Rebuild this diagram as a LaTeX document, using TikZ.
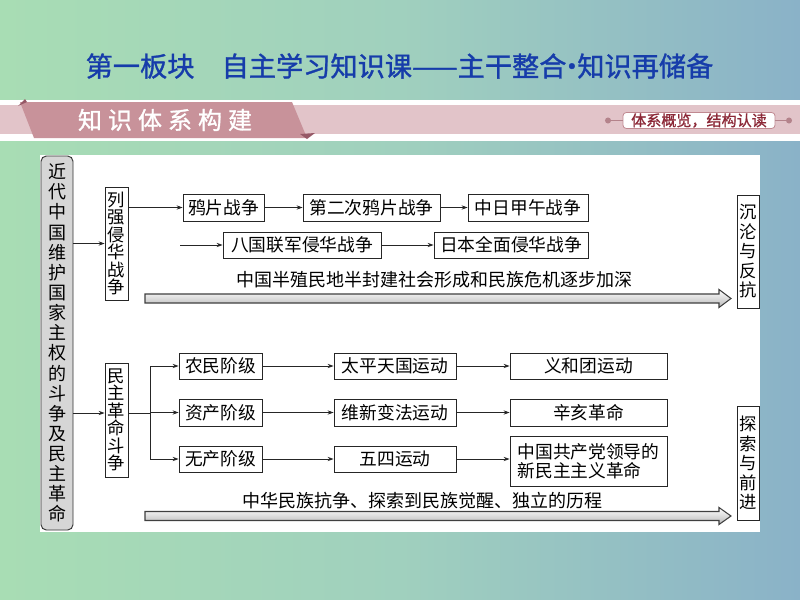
\documentclass[tikz,border=0pt]{standalone}
\usepackage{fontspec}
\newfontfamily\cjk{Noto Sans CJK SC}
\newfontfamily\cjkb[FakeBold=1.2]{Noto Sans CJK SC}
\usetikzlibrary{arrows.meta}
\definecolor{bgL}{RGB}{168,221,180}
\definecolor{bgM}{RGB}{160,208,190}
\definecolor{bgR}{RGB}{138,178,200}
\definecolor{titleblue}{RGB}{22,60,170}
\definecolor{pinkband}{RGB}{226,196,201}
\definecolor{tabpink}{RGB}{200,146,154}
\definecolor{tabdark}{RGB}{150,88,102}
\definecolor{tagred}{RGB}{140,40,55}
\definecolor{graybox}{RGB}{214,214,214}
\begin{document}
\begin{tikzpicture}[x=0.75pt,y=-0.75pt,
  bx/.style 2 args={draw=black!85, line width=0.6pt, fill=white, inner sep=0pt,
     minimum width=#1*0.75pt, minimum height=#2*0.75pt,
     font=\cjk\fontsize{13.3}{14.3}\selectfont},
  vbx/.style 2 args={draw=black!85, line width=0.6pt, fill=white, inner sep=0pt,
     minimum width=#1*0.75pt, minimum height=#2*0.75pt, align=center},
  conn/.style={-{Stealth[length=4.5pt,width=3.2pt]}, line width=0.6pt, draw=black!85},
  plain/.style={line width=0.6pt, draw=black!85},
  bigarrow/.style={draw=black!75, line width=0.8pt, top color=white, bottom color=black!28},
  longtxt/.style={font=\cjk\fontsize{13.5}{15}\selectfont, inner sep=0pt},
]
\useasboundingbox (0,0) rectangle (800,600);
% background
\shade[left color=bgL, right color=bgR, middle color=bgM] (0,0) rectangle (800,600);
% title
\node[font=\cjkb\fontsize{20.4}{24}\selectfont, text=titleblue] (title) at (399.5,66)
  {第一板块　自主学习知识课——主干整合\hspace{-0.3em}·\hspace{-0.3em}知识再储备};
% banner
\fill[white] (0,100) rectangle (800,141);
\fill[pinkband] (0,105) rectangle (800,134);
\fill[tabpink] (20,102) -- (292,102) -- (307,138) -- (34,138) -- cycle;
\fill[tabdark] (18,106) -- (25,99) -- (27,102) -- cycle;
\fill[tabdark] (300,134) -- (315,133) -- (307,139) -- cycle;
\node[font=\cjkb\fontsize{18}{20}\selectfont, text=white] (ktitle) at (165,120)
  {知\hspace{4.5pt}识\hspace{4.5pt}体\hspace{4.5pt}系\hspace{4.5pt}构\hspace{4.5pt}建};
\node[draw=tagred!55, line width=0.6pt, fill=white, rounded corners=2.5pt, text=tagred,
  inner sep=0pt, minimum width=152*0.75pt, minimum height=16*0.75pt,
  font=\cjkb\fontsize{11.3}{12}\selectfont] (tag) at (699,120.5) {体系概览，结构认读};
\node[circle, fill=tabpink!90!black, inner sep=1.6pt] (d1) at (608,120.5) {};
\node[circle, fill=tabpink!90!black, inner sep=1.6pt] (d2) at (789,120.5) {};
\draw[tabpink!90!black, line width=0.8pt] (d1) -- (tag.west);
\draw[tabpink!90!black, line width=0.8pt] (tag.east) -- (d2);
% panel
\fill[white] (40,155) rectangle (760,532);
% root
\node[draw=black!80, line width=0.7pt, fill=graybox, rounded corners=4pt, inner sep=0pt,
  minimum width=32*0.75pt, minimum height=374*0.75pt, align=center,
  font=\cjk\fontsize{13.5}{15.1}\selectfont] (root) at (57,343)
  {近\\代\\中\\国\\维\\护\\国\\家\\主\\权\\的\\斗\\争\\及\\民\\主\\革\\命};
% level-1 vertical boxes
\node[vbx={23}{113}, font=\cjk\fontsize{13}{13.1}\selectfont] (lq) at (116.5,243.5)
  {列\\强\\侵\\华\\战\\争};
\node[vbx={23}{114}, font=\cjk\fontsize{13}{13.1}\selectfont] (mz) at (116.5,420)
  {民\\主\\革\\命\\斗\\争};
\node[vbx={22}{113}, font=\cjk\fontsize{13}{14.6}\selectfont] (cl) at (748,251.5)
  {沉\\沦\\与\\反\\抗};
\node[vbx={22}{114}, font=\cjk\fontsize{13}{14.6}\selectfont] (ts) at (748,463)
  {探\\索\\与\\前\\进};
% top rows
\node[bx={81}{27}] (yp) at (223.5,207.5) {鸦片战争};
\node[bx={137}{27}] (de) at (371.5,207.5) {第二次鸦片战争};
\node[bx={120}{27}] (zr) at (528,207.5) {中日甲午战争};
\node[bx={158}{26}] (bg) at (302,245) {八国联军侵华战争};
\node[bx={154}{26}] (rb) at (511,245) {日本全面侵华战争};
\node[longtxt] (t1) at (434,280) {中国半殖民地半封建社会形成和民族危机逐步加深};
% bottom rows
\node[bx={83}{26}] (nm) at (220.5,366) {农民阶级};
\node[bx={83}{27}] (zc) at (220.5,412.5) {资产阶级};
\node[bx={83}{26}] (wc) at (220.5,459) {无产阶级};
\node[bx={122}{26}] (tp) at (395,366) {太平天国运动};
\node[bx={122}{27}] (wx) at (395,412.5) {维新变法运动};
\node[bx={122}{26}] (ws) at (395,459) {五四运动};
\node[bx={157}{26}] (yh) at (588.5,366) {义和团运动};
\node[bx={157}{27}] (xh) at (588.5,412.5) {辛亥革命};
\node[bx={157}{50}, align=left] (gc) at (588.5,461) {中国共产党领导的\\新民主主义革命};
\node[longtxt] (t2) at (422,501) {中华民族抗争、探索到民族觉醒、独立的历程};
% big arrows
\draw[bigarrow] (145,294) -- (719,294) -- (719,289.5) -- (731,298.5) -- (719,307.5)
  -- (719,303) -- (145,303) -- cycle;
\draw[bigarrow] (145,511.5) -- (719,511.5) -- (719,507.5) -- (731,516) -- (719,524.5)
  -- (719,520.5) -- (145,520.5) -- cycle;
% connectors top
\draw[conn] (root.east |- lq.west) -- (lq.west);
\draw[conn] (lq.east |- yp.west) -- (yp.west);
\draw[conn] (yp) -- (de);
\draw[conn] (de) -- (zr);
\coordinate (r2) at (180,245);
\draw[conn] (r2) -- (bg.west);
\draw[conn] (bg) -- (rb);
% connectors bottom
\coordinate (mzin) at ([yshift=5.25pt]mz.west);
\coordinate (br) at (150,413);
\draw[conn] (root.east |- mzin) -- (mzin);
\draw[plain] (mz.east |- br) -- (br);
\draw[plain] (br |- nm.west) -- (br |- wc.west);
\draw[conn] (br |- nm.west) -- (nm.west);
\draw[conn] (br |- zc.west) -- (zc.west);
\draw[conn] (br |- wc.west) -- (wc.west);
\draw[conn] (nm) -- (tp);
\draw[conn] (tp) -- (yh);
\draw[conn] (zc) -- (wx);
\draw[conn] (wx) -- (xh);
\draw[conn] (wc) -- (ws);
\draw[conn] (ws) -- (gc.west |- ws.east);
\end{tikzpicture}
\end{document}
